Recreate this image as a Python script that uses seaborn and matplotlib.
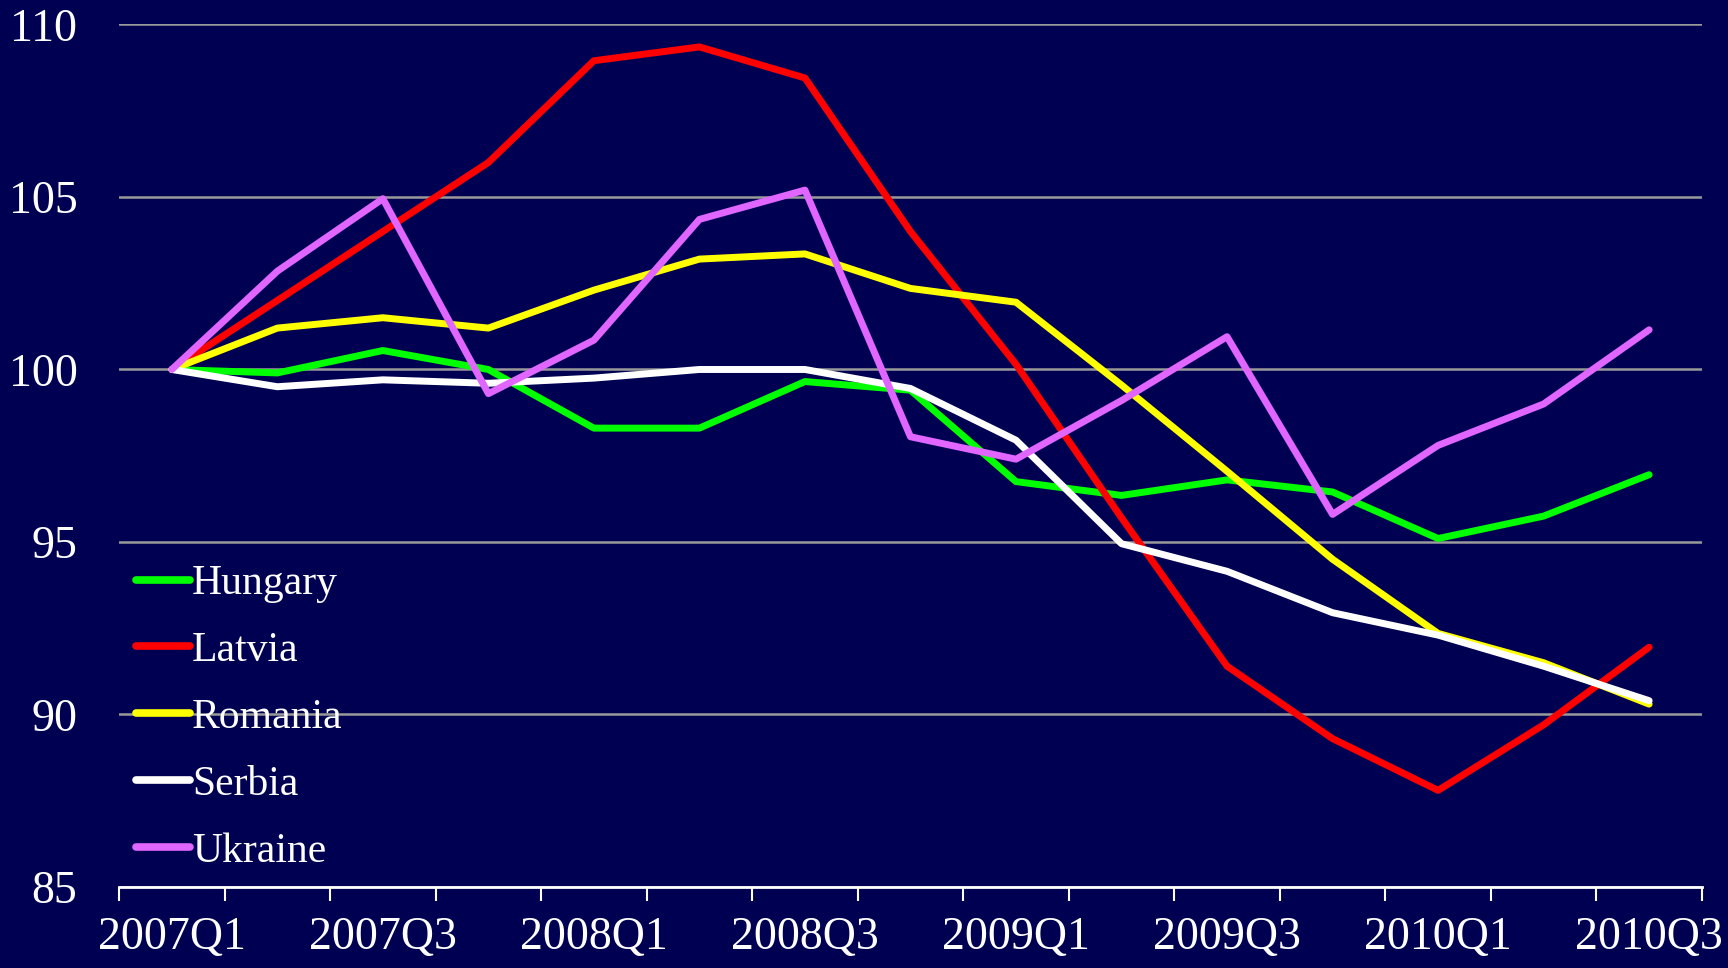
import pandas as pd
import matplotlib.pyplot as plt
import seaborn as sns
from matplotlib.ticker import FixedLocator

quarters = [
    "2007Q1", "2007Q2", "2007Q3", "2007Q4",
    "2008Q1", "2008Q2", "2008Q3", "2008Q4",
    "2009Q1", "2009Q2", "2009Q3", "2009Q4",
    "2010Q1", "2010Q2", "2010Q3",
]

hungary = [100, 99.9, 100.55, 100.0, 98.3, 98.3, 99.65, 99.4,
           96.75, 96.35, 96.8, 96.45, 95.1, 95.75, 96.95]
latvia = [100, 102.0, 104.0, 106.0, 108.95, 109.35, 108.45, 104.0,
          100.15, 95.7, 91.4, 89.3, 87.8, 89.7, 91.95]
romania = [100, 101.2, 101.5, 101.2, 102.3, 103.2, 103.35, 102.35,
           101.95, 99.55, 97.05, 94.5, 92.35, 91.5, 90.3]
serbia = [100, 99.5, 99.7, 99.6, 99.75, 100.0, 100.0, 99.45,
          97.95, 94.95, 94.15, 92.95, 92.3, 91.4, 90.4]
ukraine = [100, 102.85, 104.95, 99.3, 100.85, 104.35, 105.2, 98.05,
           97.4, 99.1, 100.95, 95.8, 97.8, 99.0, 101.15]

countries = ["Hungary", "Latvia", "Romania", "Serbia", "Ukraine"]
colors = ["#00ff00", "#ff0000", "#ffff00", "#ffffff", "#e066ff"]

df = pd.DataFrame({
    "quarter": quarters * 5,
    "value": hungary + latvia + romania + serbia + ukraine,
    "country": [c for c in countries for _ in quarters],
})

bg = "#000052"
sns.set_style("white")
plt.rcParams["font.family"] = ["Liberation Serif", "DejaVu Serif"]

fig = plt.figure(figsize=(17.28, 9.68), dpi=100, facecolor=bg)
ax = fig.add_axes([0.0689, 0.0837, 0.916, 0.891])
ax.set_facecolor(bg)

sns.lineplot(
    data=df,
    x="quarter",
    y="value",
    hue="country",
    palette=dict(zip(countries, colors)),
    linewidth=5,
    ax=ax,
    sort=False,
)

ax.set_ylim(85, 110)
ax.set_xlim(-0.5, len(quarters) - 0.5)
ax.set_yticks([85, 90, 95, 100, 105, 110])
ax.yaxis.grid(True, color="#9a9a9a", linewidth=1.8)
ax.set_axisbelow(True)

# labels on every other quarter, small ticks at category boundaries
ax.set_xticks(list(range(0, len(quarters), 2)), quarters[::2])
ax.xaxis.set_minor_locator(FixedLocator([i - 0.5 for i in range(len(quarters) + 1)]))
ax.tick_params(axis="x", which="minor", direction="out", length=10,
               width=1.5, color="white", bottom=True)
ax.tick_params(axis="x", which="major", length=0, pad=21,
               labelsize=33, labelcolor="white")
ax.tick_params(axis="y", length=0, pad=30, labelsize=33, labelcolor="white")

for s in ["top", "right", "left"]:
    ax.spines[s].set_visible(False)
ax.spines["bottom"].set_color("white")
ax.spines["bottom"].set_linewidth(2)

ax.set_xlabel("")
ax.set_ylabel("")

leg = ax.legend(
    loc="upper left",
    bbox_to_anchor=(0.0, 0.393),
    frameon=False,
    fontsize=30,
    handlelength=1.3,
    handletextpad=0.05,
    labelspacing=0.68,
    borderaxespad=0,
)
for t in leg.get_texts():
    t.set_color("white")
for h in leg.get_lines():
    h.set_linewidth(5.5)

plt.savefig("out.png", dpi=100, facecolor=bg)
